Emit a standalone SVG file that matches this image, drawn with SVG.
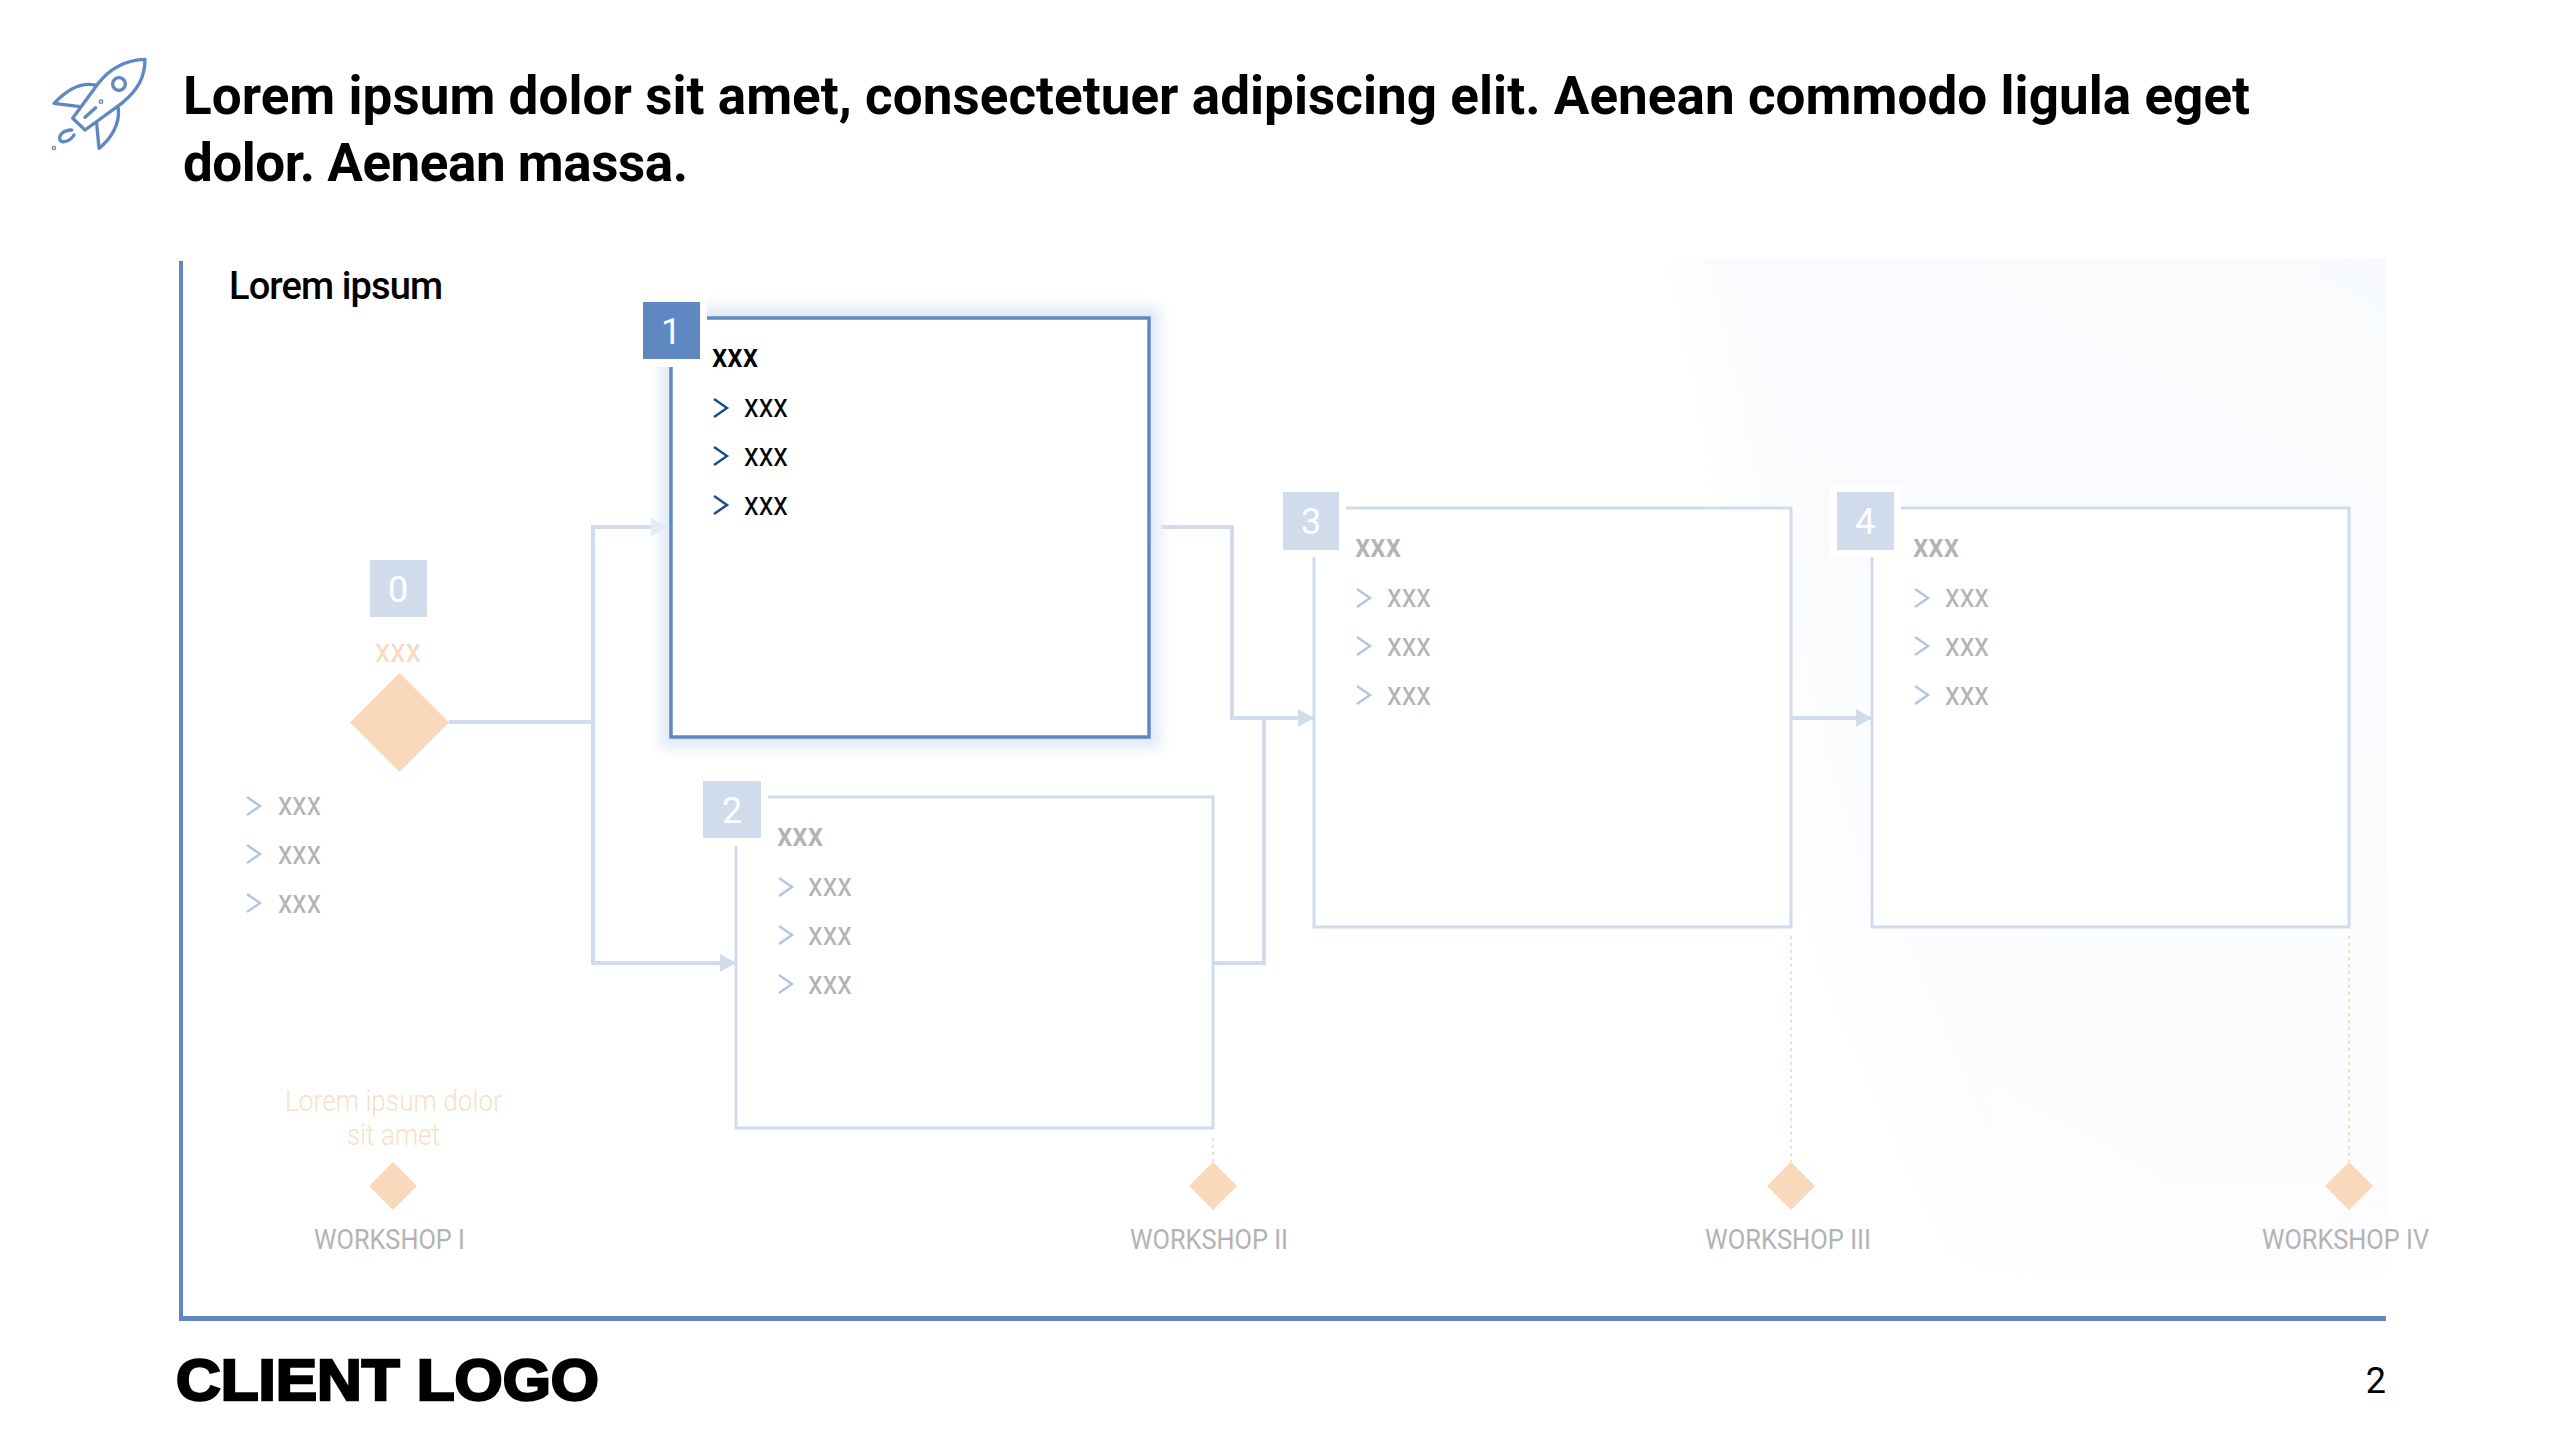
<svg xmlns="http://www.w3.org/2000/svg" width="2560" height="1440" viewBox="0 0 2560 1440">
<style>
text{font-family:"Roboto","Liberation Sans",sans-serif}
.title{font-size:53px;font-weight:700;fill:#000}
.label{font-size:38px;font-weight:500;fill:#000}
.box{fill:#fff;stroke:#d0dcec;stroke-width:3}
.box1{fill:#fff;stroke:#5f88c3;stroke-width:3.5}
.badgeA{fill:#5f88c3}
.badgeB{fill:#d0dcec}
.num{font-size:36px;fill:#fff;text-anchor:middle}
.hd{font-size:34px;font-weight:500;fill:#b3b3b3}
.hd1{font-size:34px;font-weight:500;fill:#000}
.it{font-size:34px;fill:#b3b3b3}
.it1{font-size:34px;fill:#000}
.chev{fill:none;stroke:#b3c6e0;stroke-width:2.5}
.chev1{fill:none;stroke:#1f4e8c;stroke-width:2.5}
.conn{fill:none;stroke:#d0dcec;stroke-width:4}
.dot{fill:none;stroke:#f9dcc0;stroke-width:2;stroke-dasharray:3 4}
.dia{fill:#f9d9bb}
.ws{font-size:28px;fill:#b3b3b3}
.rk{fill:none;stroke:#5f88c3;stroke-width:10;stroke-linecap:round;stroke-linejoin:round}
</style>
<defs>
<linearGradient id="bg" x1="0.9" y1="0" x2="0.5" y2="1">
<stop offset="0" stop-color="#f8fafd"/><stop offset="0.6" stop-color="#fbfcfe"/><stop offset="1" stop-color="#fdfdfe"/>
</linearGradient>
<clipPath id="bgclip"><rect x="1500" y="258" width="886" height="1020"/></clipPath>
<filter id="soft" x="-20%" y="-20%" width="140%" height="140%"><feGaussianBlur stdDeviation="30"/></filter>
<filter id="glow" x="-20%" y="-20%" width="140%" height="140%"><feGaussianBlur stdDeviation="7"/></filter>
<marker id="arr" markerUnits="userSpaceOnUse" markerWidth="16" markerHeight="18" refX="16" refY="9" orient="auto"><path d="M0 0L16 9L0 18Z" fill="#d0dcec"/></marker>
<marker id="arrL" markerUnits="userSpaceOnUse" markerWidth="16" markerHeight="18" refX="16" refY="9" orient="auto"><path d="M0 0L16 9L0 18Z" fill="#e4ebf5"/></marker>
</defs>
<rect width="2560" height="1440" fill="#fff"/>
<g clip-path="url(#bgclip)"><path d="M1680 200H2460V1262H1960L1830 960Z" fill="url(#bg)" filter="url(#soft)"/></g>

<g id="header">
<g transform="translate(30 40) scale(.3333)" class="rk">
<path d="M150 205L205 130C240 85 290 60 345 58C345 110 325 150 275 190L190 252"/>
<path d="M150 205L128 235L165 270L190 252M165 232L197 203"/>
<circle cx="267" cy="132" r="19"/>
<path d="M195 135C150 125 110 150 72 190L150 200"/>
<path d="M265 205C270 250 245 295 207 325L200 250"/>
<path d="M125 270C100 270 85 285 90 300C95 310 120 305 132 285"/>
<circle cx="213" cy="185" r="2"/><circle cx="72" cy="324" r="2"/>
</g>
<text class="title" x="183" y="114" textLength="2067" lengthAdjust="spacing">Lorem ipsum dolor sit amet, consectetuer adipiscing elit. Aenean commodo ligula eget</text>
<text class="title" x="183" y="181" textLength="505" lengthAdjust="spacing">dolor. Aenean massa.</text>
</g>

<g id="axes" fill="#5f88c3">
<rect x="179" y="261" width="4" height="1059"/>
<rect x="179" y="1316" width="2207" height="5"/>
</g>
<text id="chart-title" class="label" x="229" y="299" textLength="214" lengthAdjust="spacing">Lorem ipsum</text>

<g id="connectors">
<path class="conn" d="M449 722H593"/>
<path class="conn" d="M593 963V527H667" marker-end="url(#arrL)"/>
<path class="conn" d="M593 722V963H736" marker-end="url(#arr)"/>
<path class="conn" d="M1161 527H1232V718H1314" marker-end="url(#arr)"/>
<path class="conn" d="M1213 963H1264V718"/>
<path class="conn" d="M1791 718H1872" marker-end="url(#arr)"/>
<path class="dot" d="M1213 1138V1162"/>
<path class="dot" d="M1791 936V1162"/>
<path class="dot" d="M2349 936V1162"/>
</g>

<g id="node-0">
<rect class="badgeB" x="370" y="560" width="57" height="57"/>
<text class="num" x="398" y="602">0</text>
<text x="398" y="662" font-size="34" fill="#f9d9bb" text-anchor="middle" textLength="46" lengthAdjust="spacingAndGlyphs">xxx</text>
<path class="dia" d="M399.5 673L449 722.5L399.5 772L350 722.5Z"/>
<path class="chev" d="M247 797L260 806L247 815"/><text class="it" x="278" y="815" textLength="43" lengthAdjust="spacingAndGlyphs">xxx</text>
<path class="chev" d="M247 845L260 854L247 863"/><text class="it" x="278" y="864" textLength="43" lengthAdjust="spacingAndGlyphs">xxx</text>
<path class="chev" d="M247 894L260 903L247 912"/><text class="it" x="278" y="913" textLength="43" lengthAdjust="spacingAndGlyphs">xxx</text>
</g>

<g id="node-1">
<rect x="660" y="307" width="500" height="441" fill="#e0e9f6" filter="url(#glow)"/>
<rect class="box1" x="671" y="318" width="478" height="419"/>
<rect x="636" y="295" width="71" height="72" fill="#fff"/>
<rect class="badgeA" x="643" y="302" width="57" height="57"/>
<text class="num" x="671" y="344">1</text>
<text class="hd1" x="712" y="367" textLength="46" lengthAdjust="spacingAndGlyphs">xxx</text>
<path class="chev1" d="M714 399L727 408L714 417"/><text class="it1" x="744" y="417" textLength="44" lengthAdjust="spacingAndGlyphs">xxx</text>
<path class="chev1" d="M714 447L727 456L714 465"/><text class="it1" x="744" y="466" textLength="44" lengthAdjust="spacingAndGlyphs">xxx</text>
<path class="chev1" d="M714 496L727 505L714 514"/><text class="it1" x="744" y="515" textLength="44" lengthAdjust="spacingAndGlyphs">xxx</text>
</g>

<g id="node-2">
<rect class="box" x="736" y="797" width="477" height="331"/>
<rect x="696" y="774" width="72" height="72" fill="#fff"/>
<rect class="badgeB" x="703" y="781" width="58" height="57"/>
<text class="num" x="732" y="823">2</text>
<text class="hd" x="777" y="846" textLength="46" lengthAdjust="spacingAndGlyphs">xxx</text>
<path class="chev" d="M779 878L792 887L779 896"/><text class="it" x="808" y="896" textLength="44" lengthAdjust="spacingAndGlyphs">xxx</text>
<path class="chev" d="M779 926L792 935L779 944"/><text class="it" x="808" y="945" textLength="44" lengthAdjust="spacingAndGlyphs">xxx</text>
<path class="chev" d="M779 975L792 984L779 993"/><text class="it" x="808" y="994" textLength="44" lengthAdjust="spacingAndGlyphs">xxx</text>
</g>

<g id="node-3">
<rect class="box" x="1314" y="508" width="477" height="419"/>
<rect x="1276" y="485" width="70" height="72" fill="#fff"/>
<rect class="badgeB" x="1283" y="492" width="56" height="58"/>
<text class="num" x="1311" y="534">3</text>
<text class="hd" x="1355" y="557" textLength="46" lengthAdjust="spacingAndGlyphs">xxx</text>
<path class="chev" d="M1357 589L1370 598L1357 607"/><text class="it" x="1387" y="607" textLength="44" lengthAdjust="spacingAndGlyphs">xxx</text>
<path class="chev" d="M1357 637L1370 646L1357 655"/><text class="it" x="1387" y="656" textLength="44" lengthAdjust="spacingAndGlyphs">xxx</text>
<path class="chev" d="M1357 686L1370 695L1357 704"/><text class="it" x="1387" y="705" textLength="44" lengthAdjust="spacingAndGlyphs">xxx</text>
</g>

<g id="node-4">
<rect class="box" x="1872" y="508" width="477" height="419"/>
<rect x="1830" y="485" width="71" height="72" fill="#fff"/>
<rect class="badgeB" x="1837" y="492" width="57" height="58"/>
<text class="num" x="1865" y="534">4</text>
<text class="hd" x="1913" y="557" textLength="46" lengthAdjust="spacingAndGlyphs">xxx</text>
<path class="chev" d="M1915 589L1928 598L1915 607"/><text class="it" x="1945" y="607" textLength="44" lengthAdjust="spacingAndGlyphs">xxx</text>
<path class="chev" d="M1915 637L1928 646L1915 655"/><text class="it" x="1945" y="656" textLength="44" lengthAdjust="spacingAndGlyphs">xxx</text>
<path class="chev" d="M1915 686L1928 695L1915 704"/><text class="it" x="1945" y="705" textLength="44" lengthAdjust="spacingAndGlyphs">xxx</text>
</g>

<g id="workshop-1">
<text x="393.5" y="1111" font-size="30" font-weight="300" fill="#f8dfc8" text-anchor="middle" textLength="217" lengthAdjust="spacingAndGlyphs">Lorem ipsum dolor</text>
<text x="393.5" y="1145" font-size="30" font-weight="300" fill="#f8dfc8" text-anchor="middle" textLength="93" lengthAdjust="spacingAndGlyphs">sit amet</text>
<path class="dia" d="M393 1162L417 1186L393 1210L369 1186Z"/>
<text class="ws" x="314" y="1249" textLength="151" lengthAdjust="spacingAndGlyphs">WORKSHOP I</text>
</g>
<g id="workshop-2">
<path class="dia" d="M1213 1162L1237 1186L1213 1210L1189 1186Z"/>
<text class="ws" x="1130" y="1249" textLength="158" lengthAdjust="spacingAndGlyphs">WORKSHOP II</text>
</g>
<g id="workshop-3">
<path class="dia" d="M1791 1162L1815 1186L1791 1210L1767 1186Z"/>
<text class="ws" x="1705" y="1249" textLength="166" lengthAdjust="spacingAndGlyphs">WORKSHOP III</text>
</g>
<g id="workshop-4">
<path class="dia" d="M2349 1162L2373 1186L2349 1210L2325 1186Z"/>
<text class="ws" x="2262" y="1249" textLength="167" lengthAdjust="spacingAndGlyphs">WORKSHOP IV</text>
</g>

<g id="footer">
<text x="176" y="1400" font-size="57" font-weight="700" style="font-family:'Liberation Sans',Arial,sans-serif" fill="#000" stroke="#000" stroke-width="2.5" textLength="423" lengthAdjust="spacingAndGlyphs">CLIENT LOGO</text>
<text x="2386" y="1393" font-size="36" fill="#000" text-anchor="end">2</text>
</g>
</svg>
